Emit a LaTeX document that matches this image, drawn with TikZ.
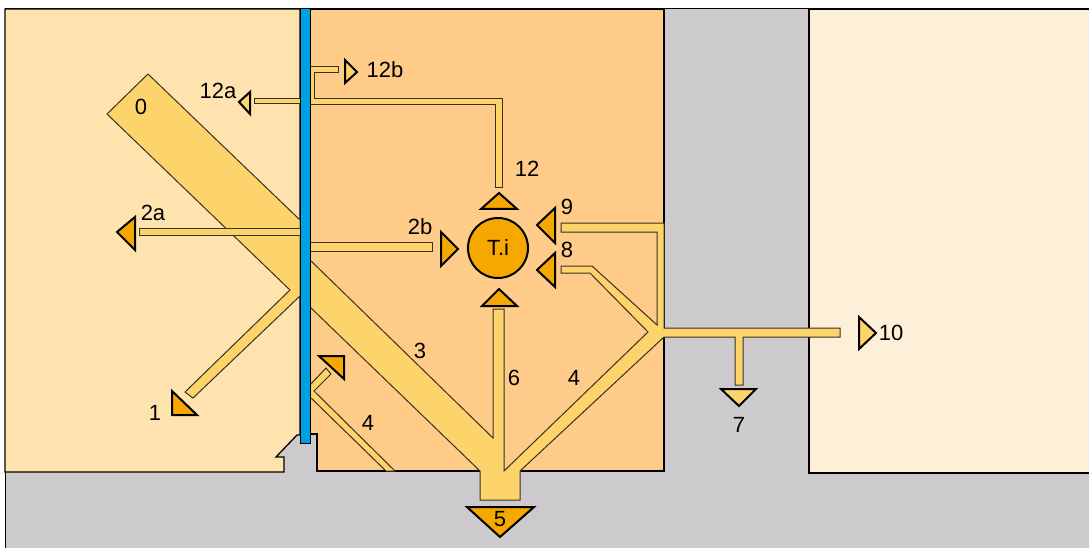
\documentclass[tikz,border=0pt]{standalone}
\usepackage{fontspec}
\setmainfont{Liberation Sans}
\usetikzlibrary{shapes,calc,positioning}
\definecolor{groundgray}{HTML}{CCCACC}
\definecolor{leftroom}{HTML}{FEE3AE}
\definecolor{midroom}{HTML}{FECB88}
\definecolor{rightroom}{HTML}{FEF0D8}
\definecolor{stripfill}{HTML}{FDD46C}
\definecolor{stripline}{HTML}{3A3020}
\definecolor{tipfill}{HTML}{F5A800}
\definecolor{wallblue}{HTML}{00A0E2}
\tikzset{
    room/.style={
        draw=black,
        line width=1.3pt
    },
    strip/.style={
        fill=stripfill,
        draw=stripline,
        line width=1pt
    },
    tipdark/.style={
        fill=tipfill,
        draw=black,
        line width=2pt
    },
    tiplight/.style={
        fill=stripfill,
        draw=black,
        line width=2pt
    },
    lbl/.style={
        font=\fontsize{22}{26}\selectfont,
        inner sep=0pt
    }
}

\begin{document}
\begin{tikzpicture}[x=1pt, y=-1pt]
    \useasboundingbox (0,0) rectangle (1089,548);
    % ground and rooms
    \fill[groundgray] (5,9) rectangle (1089,548);
    \draw[line width=1pt] (5,548) -- (5,9) -- (1089,9);
    \filldraw[room, fill=leftroom] (5,9) -- (300,9) -- (300,435) -- (297,435)
        -- (276,457) -- (284,457) -- (284,472) -- (5,472) -- cycle;
    \filldraw[room, fill=midroom] (310,9) -- (664,9) -- (664,471) -- (317,471)
        -- (317,434) -- (310,434) -- cycle;
    \filldraw[room, fill=rightroom] (809,9) -- (1090,9) -- (1090,473) -- (809,473) -- cycle;
    % flows on the left side
    \filldraw[strip] (148,74) -- (300,220) -- (300,296) -- (193,398) -- (185,392)
        -- (290,290) -- (107,114) -- cycle;
    \filldraw[strip] (139,228) rectangle (300,235);
    \filldraw[strip] (254,99) rectangle (300,104);
    % flows on the right side
    \filldraw[strip] (310,260) -- (493,438) -- (493,309) -- (504,309) -- (504,471)
        -- (648,332) -- (590,273) -- (561,273) -- (561,266) -- (592,266)
        -- (657,325) -- (657,232) -- (561,232) -- (561,223) -- (664,223)
        -- (664,328) -- (840,328) -- (840,337) -- (743,337) -- (743,385)
        -- (735,385) -- (735,337) -- (664,337) -- (520,471) -- (520,500)
        -- (480,500) -- (480,471) -- (310,307) -- cycle;
    \filldraw[strip] (310,242) rectangle (432,251);
    \filldraw[strip] (310,67) -- (338,67) -- (338,73) -- (314,73) -- (314,99)
        -- (502,99) -- (502,188) -- (495,188) -- (495,105) -- (310,105) -- cycle;
    \filldraw[strip] (310,385) -- (326,368) -- (331,374) -- (314,391) -- (395,471)
        -- (386,471) -- (310,397) -- cycle;
    % wall
    \filldraw[fill=wallblue, draw=black, line width=1pt] (300,9) rectangle (310,443);
    % tips
    \filldraw[tiplight] (239,102) -- (250,92) -- (250,114) -- cycle;
    \filldraw[tiplight] (345,60) -- (345,83) -- (357,72) -- cycle;
    \filldraw[tipdark] (117,232) -- (135,217) -- (135,250) -- cycle;
    \filldraw[tipdark] (441,232) -- (441,266) -- (458,249) -- cycle;
    \filldraw[tipdark] (481,209) -- (517,209) -- (499,193) -- cycle;
    \filldraw[tipdark] (537,225) -- (555,208) -- (555,243) -- cycle;
    \filldraw[tipdark] (537,270) -- (555,253) -- (555,287) -- cycle;
    \filldraw[tipdark] (482,306) -- (517,306) -- (499,289) -- cycle;
    \filldraw[tipdark] (467,507) -- (534,507) -- (500,537) -- cycle;
    \filldraw[tipdark] (172,391) -- (172,415) -- (197,415) -- cycle;
    \filldraw[tipdark] (319,356) -- (344,356) -- (344,379) -- cycle;
    \filldraw[tiplight] (859,317) -- (859,349) -- (876,333) -- cycle;
    \filldraw[tiplight] (721,389) -- (756,389) -- (739,406) -- cycle;
    % storage
    \node[circle, minimum size=60pt, fill=tipfill, draw=black, line width=2pt,
        lbl] (ti) at (498,248) {T.i};
    % labels
    \node[lbl] (l0) at (141,107) {0};
    \node[lbl] (l12a) at (218,91) {12a};
    \node[lbl] (l12b) at (385,70) {12b};
    \node[lbl] (l2a) at (153,213) {2a};
    \node[lbl] (l2b) at (420,227) {2b};
    \node[lbl] (l12) at (527,169) {12};
    \node[lbl] (l9) at (567,207) {9};
    \node[lbl] (l8) at (567,250) {8};
    \node[lbl] (l1) at (155,413) {1};
    \node[lbl] (l3) at (420,351) {3};
    \node[lbl] (l6) at (514,378) {6};
    \node[lbl] (l4r) at (574,378) {4};
    \node[lbl] (l4l) at (368,423) {4};
    \node[lbl] (l5) at (500,519) {5};
    \node[lbl] (l7) at (739,425) {7};
    \node[lbl] (l10) at (891,333) {10};
\end{tikzpicture}
\end{document}
